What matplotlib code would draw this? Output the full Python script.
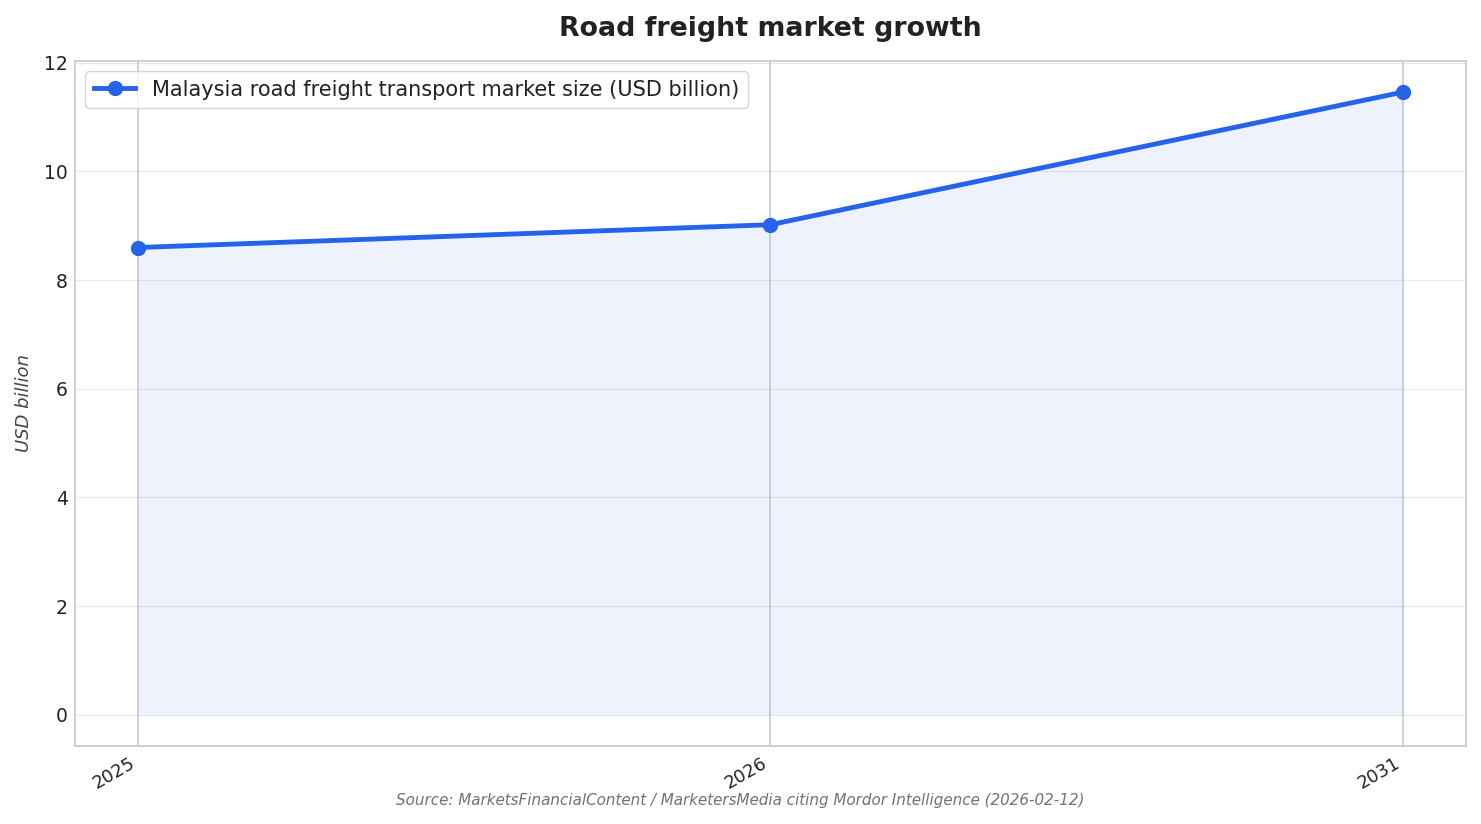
import matplotlib
matplotlib.use("Agg")
import matplotlib.pyplot as plt

years = ["2025", "2026", "2031"]
values = [8.6, 9.02, 11.46]
series_label = "Malaysia road freight transport market size (USD billion)"
title = "Road freight market growth"
ylabel = "USD billion"
source = "Source: MarketsFinancialContent / MarketersMedia citing Mordor Intelligence (2026-02-12)"

plt.rcParams['font.family'] = ['DejaVu Sans']
fig = plt.figure(figsize=(14.81, 8.24), dpi=100)
ax = fig.add_axes([0.0506, 0.0947, 0.9393, 0.8313])

x = list(range(len(years)))
color = "#2563eb"
ax.fill_between(x, values, 0, color=color, alpha=0.08, linewidth=0)
ax.plot(x, values, color=color, linewidth=3.5, marker="o", markersize=10, label=series_label, zorder=3)
for xi in x:
    ax.axvline(xi, color="#94a3b8", alpha=0.55, linewidth=1.2, zorder=1)

ax.set_xticks(x)
ax.set_xticklabels(years, rotation=30, ha="right", fontsize=13, color="#222222")
ax.tick_params(axis="y", labelsize=13.5, labelcolor="#222222", length=0, pad=5)
ax.tick_params(axis="x", length=0, pad=6)
ax.yaxis.grid(True, color="#ebebeb", linewidth=1)
ax.xaxis.grid(False)
ax.set_axisbelow(True)
for s in ax.spines.values():
    s.set_color("#cccccc")
    s.set_linewidth(1.3)

ax.set_ylabel(ylabel, fontsize=13, style="italic", color="#444444", labelpad=8)
ax.set_title(title, fontsize=19.3, fontweight="bold", color="#222222", pad=18)
leg = ax.legend(loc="upper left", fontsize=15, frameon=True, fancybox=True, edgecolor="#cccccc")
for t in leg.get_texts():
    t.set_color("#222222")
fig.text(0.5, 0.028, source, ha="center", va="center", fontsize=10.9, style="italic", color="#6b7280")

fig.savefig("out.png", dpi=100)
